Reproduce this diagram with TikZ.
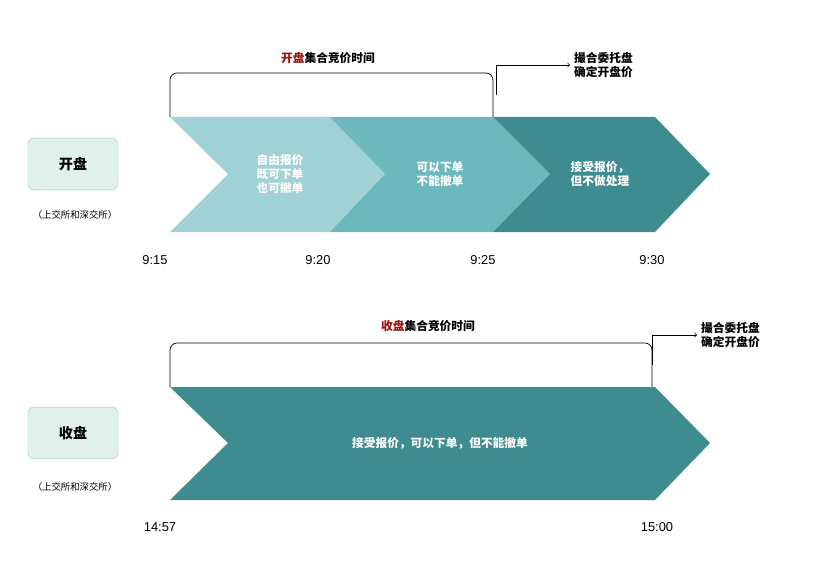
\documentclass[tikz,border=0pt]{standalone}
\usepackage{fontspec}
\setmainfont{Liberation Sans}
\newfontfamily\cjk{Noto Sans CJK SC}
\definecolor{chevA}{HTML}{A0D1D6}
\definecolor{chevB}{HTML}{6DB8BD}
\definecolor{chevC}{HTML}{3F8C90}
\definecolor{boxfill}{HTML}{E0F1EC}
\definecolor{boxline}{HTML}{9CCBC0}
\definecolor{darkred}{HTML}{A01010}
\tikzset{
  cn/.style={font=\cjk\bfseries\fontsize{10pt}{12pt}\selectfont,align=center},
  wcn/.style={cn,text=white},
  tm/.style={font=\fontsize{11pt}{13pt}\selectfont},
  tag/.style={rectangle,rounded corners=5pt,draw=boxline,fill=boxfill,minimum width=2.7cm,minimum height=1.55cm,font=\cjk\bfseries\fontsize{12pt}{14pt}\selectfont},
  note/.style={font=\cjk\fontsize{8pt}{10pt}\selectfont},
  brace/.style={draw=black,line width=0.6pt,rounded corners=6pt},
}
\begin{document}
\begin{tikzpicture}[x=0.03cm,y=-0.03cm]
    \useasboundingbox (0,0) rectangle (825,566);
    % open
    \fill[chevA] (170,117) -- (330,117) -- (385,174) -- (330,232) -- (170,232) -- (228,174) -- cycle;
    \fill[chevB] (330,117) -- (493,117) -- (550,174) -- (493,232) -- (330,232) -- (385,174) -- cycle;
    \fill[chevC] (493,117) -- (655,117) -- (710,174) -- (655,232) -- (493,232) -- (550,174) -- cycle;
    \node[wcn] at (280,174) (free) {自由报价\\既可下单\\也可撤单};
    \node[wcn] at (440,174) (order) {可以下单\\不能撤单};
    \node[wcn] at (600,174) (accept) {接受报价，\\但不做处理};
    \draw[brace] (170,117) -- (170,73) -- (493,73) -- (493,117);
    \node[cn] at (328,58) (otitle) {\textcolor{darkred}{开盘}集合竞价时间};
    \coordinate (obase) at (496,95);
    \node[cn,anchor=west] at (570,65) (omatch) {撮合委托盘\\确定开盘价};
    \draw[->,line width=0.6pt] (obase) |- (omatch.west);
    \node[tag] at (73,164) (open) {开盘};
    \node[note] at (75,215) (onote) {（上交所和深交所）};
    \node[tm] at (155,260) (t1) {9:15};
    \node[tm] at (318,260) (t2) {9:20};
    \node[tm] at (483,260) (t3) {9:25};
    \node[tm] at (652,260) (t4) {9:30};
    % close
    \fill[chevC] (170,387) -- (655,387) -- (710,443) -- (655,500) -- (170,500) -- (228,443) -- cycle;
    \node[wcn] at (440,443) (caccept) {接受报价，可以下单，但不能撤单};
    \draw[brace] (170,387) -- (170,343) -- (652,343) -- (652,387);
    \node[cn] at (428,326) (ctitle) {\textcolor{darkred}{收盘}集合竞价时间};
    \coordinate (cbase) at (652,365);
    \node[cn,anchor=west] at (697,335) (cmatch) {撮合委托盘\\确定开盘价};
    \draw[->,line width=0.6pt] (cbase) |- (cmatch.west);
    \node[tag] at (73,433) (close) {收盘};
    \node[note] at (75,487) (cnote) {（上交所和深交所）};
    \node[tm] at (160,527) (t5) {14:57};
    \node[tm] at (657,527) (t6) {15:00};
\end{tikzpicture}
\end{document}
